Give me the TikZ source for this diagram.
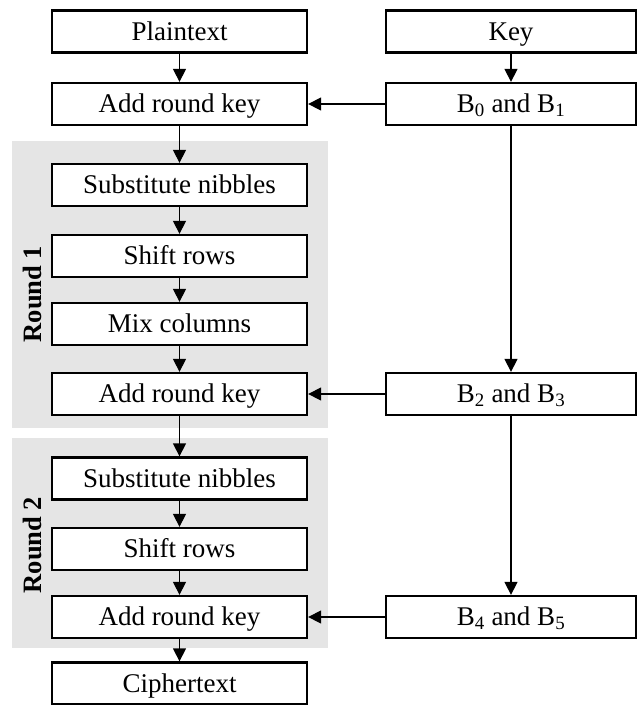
\documentclass[tikz,border=0pt]{standalone}
\usepackage{fontspec}
\setmainfont{Liberation Serif}
\usetikzlibrary{arrows.meta}
\tikzset{
  box/.style={draw, line width=2.3pt, fill=white, inner sep=0pt,
    minimum width=255pt, minimum height=42pt,
    text height=17.5pt, text depth=0pt,
    font=\fontsize{27}{31}\selectfont},
  kbox/.style={box, minimum width=250pt},
  conn/.style={line width=1.3pt, -{Triangle[length=13pt,width=13pt]}},
  roundbg/.style={fill=black!10, draw=none},
  roundlbl/.style={rotate=90, font=\fontsize{26.5}{30}\selectfont\bfseries}
}
\begin{document}
\begin{tikzpicture}[x=1pt, y=-1pt]
\useasboundingbox (0,0) rectangle (637,705);
% round backgrounds
\fill[roundbg] (12,141) rectangle (328,428);
\fill[roundbg] (12,438) rectangle (328,648);
\node[roundlbl] (r1) at (32,294) {Round 1};
\node[roundlbl] (r2) at (32,545) {Round 2};
% left column
\node[box] (pt)   at (179.5,31.5) {Plaintext};
\node[box] (ark0) at (179.5,104) {Add round key};
\node[box] (sn1)  at (179.5,185) {Substitute nibbles};
\node[box] (sr1)  at (179.5,256) {Shift rows};
\node[box] (mc1)  at (179.5,324) {Mix columns};
\node[box] (ark1) at (179.5,394) {Add round key};
\node[box] (sn2)  at (179.5,478.5) {Substitute nibbles};
\node[box] (sr2)  at (179.5,549) {Shift rows};
\node[box] (ark2) at (179.5,617) {Add round key};
\node[box] (ct)   at (179.5,683.5) {Ciphertext};
% right column
\node[kbox] (key) at (511,31.5) {Key};
\node[kbox] (k01) at (511,104) {B\textsubscript{0} and B\textsubscript{1}};
\node[kbox] (k23) at (511,394) {B\textsubscript{2} and B\textsubscript{3}};
\node[kbox] (k45) at (511,617) {B\textsubscript{4} and B\textsubscript{5}};
% connectors
\draw[conn] (pt) -- (ark0);
\draw[conn] (ark0) -- (sn1);
\draw[conn] (sn1) -- (sr1);
\draw[conn] (sr1) -- (mc1);
\draw[conn] (mc1) -- (ark1);
\draw[conn] (ark1) -- (sn2);
\draw[conn] (sn2) -- (sr2);
\draw[conn] (sr2) -- (ark2);
\draw[conn] (ark2) -- (ct);
\draw[conn] (key) -- (k01);
\draw[conn] (k01) -- (k23);
\draw[conn] (k23) -- (k45);
\draw[conn] (k01) -- (ark0);
\draw[conn] (k23) -- (ark1);
\draw[conn] (k45) -- (ark2);
\end{tikzpicture}
\end{document}
